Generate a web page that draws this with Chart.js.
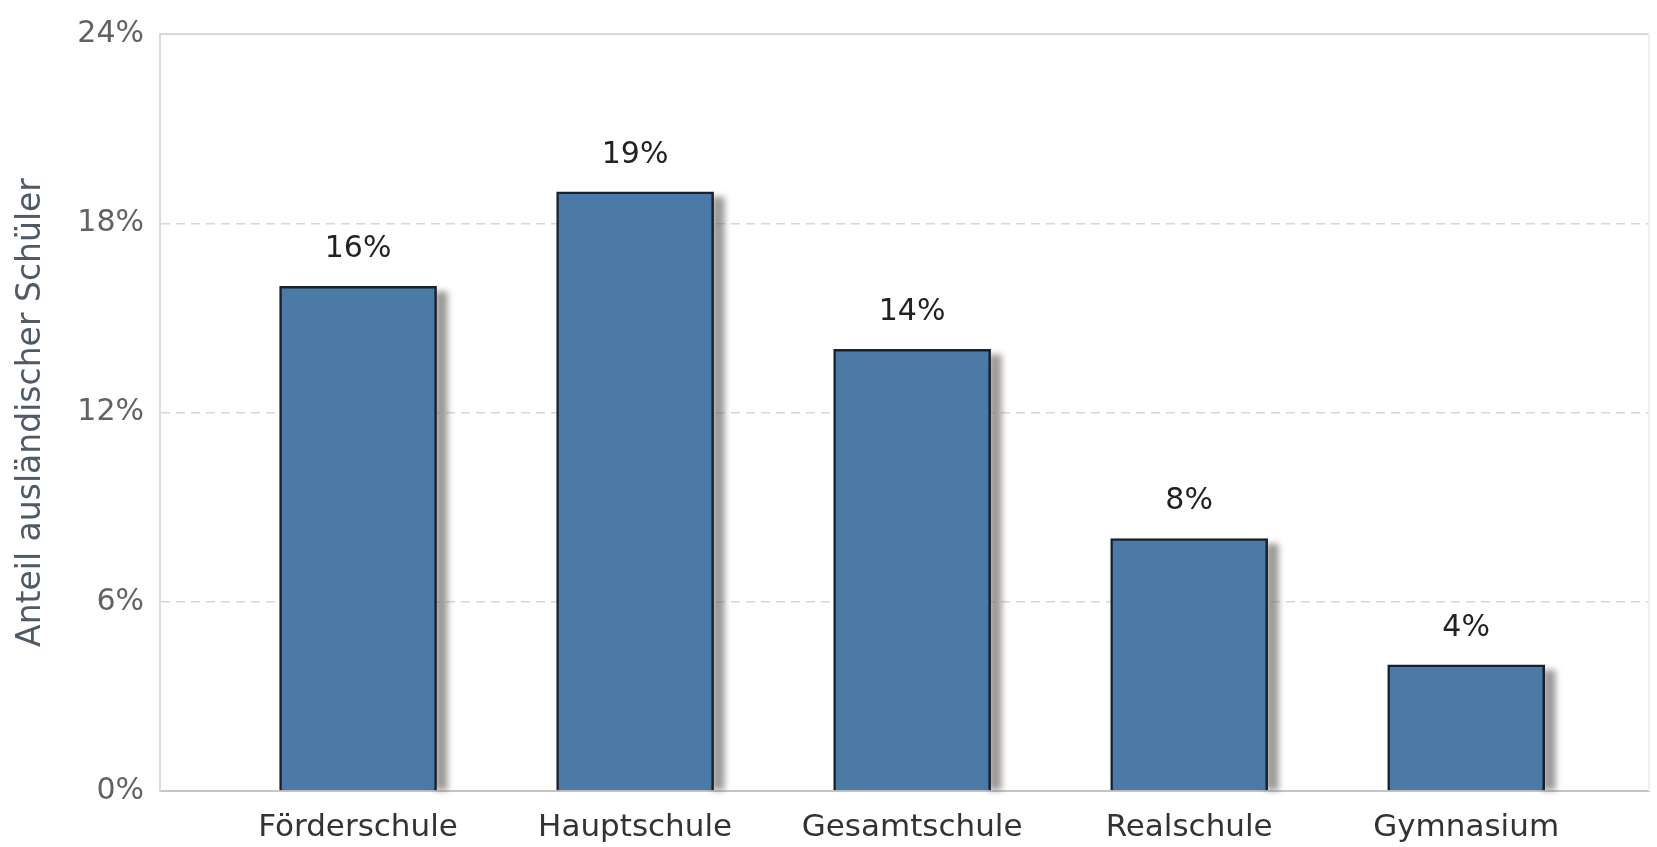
<!DOCTYPE html>
<html>
<head>
<meta charset="utf-8">
<script src="https://cdn.jsdelivr.net/npm/chart.js@4.4.1/dist/chart.umd.min.js"></script>
<style>
    html, body { margin: 0; padding: 0; background: #fff; overflow: hidden; }
    #wrap { width: 1657px; height: 847px; }
</style>
</head>
<body>
<div id="wrap"><canvas id="barChart"></canvas></div>
<script>
// ── Data ─────────────────────────────────────────────────────
const schulformen = ['Förderschule', 'Hauptschule', 'Gesamtschule', 'Realschule', 'Gymnasium'];
const anteil      = [16, 19, 14, 8, 4];
const yTicks      = [0, 6, 12, 18, 24];
const yTitle      = 'Anteil ausländischer Schüler';

const FONT = "'DejaVu Sans', Verdana, sans-serif";

// ── Plot frame (solid top + right edge) ──────────────────────
const plotFrame = {
    id: 'plotFrame',
    beforeDatasetsDraw(chart) {
        const { ctx, chartArea: a } = chart;
        ctx.save();
        ctx.strokeStyle = '#d8d8d8';
        ctx.lineWidth = 2;
        ctx.beginPath();
        ctx.moveTo(a.left, a.top);
        ctx.lineTo(a.right, a.top);
        ctx.stroke();
        ctx.strokeStyle = '#efefef';
        ctx.beginPath();
        ctx.moveTo(a.right, a.top);
        ctx.lineTo(a.right, a.bottom);
        ctx.stroke();
        ctx.restore();
    }
};

// ── Drop shadow at right of each bar ─────────────────────────
const barShadow = {
    id: 'barShadow',
    beforeDatasetsDraw(chart) {
        const ctx = chart.ctx;
        const meta = chart.getDatasetMeta(0);
        ctx.save();
        ctx.filter = 'blur(3px)';
        ctx.fillStyle = 'rgba(105,98,92,0.65)';
        meta.data.forEach(function (bar) {
            const p = bar.getProps(['x', 'y', 'width', 'base'], true);
            ctx.fillRect(p.x + p.width / 2 - 2, p.y + 5, 13, p.base - p.y - 5);
        });
        ctx.restore();
    }
};

// ── Value labels above bars ──────────────────────────────────
const valueLabels = {
    id: 'valueLabels',
    afterDraw(chart) {
        const ctx = chart.ctx;
        const meta = chart.getDatasetMeta(0);
        ctx.save();
        ctx.font = '30px ' + FONT;
        ctx.fillStyle = '#222';
        ctx.textAlign = 'center';
        ctx.textBaseline = 'middle';
        meta.data.forEach(function (bar, i) {
            ctx.fillText(anteil[i] + '%', bar.x, bar.y - 37);
        });
        ctx.restore();
    }
};

const ctx = document.getElementById('barChart').getContext('2d');
new Chart(ctx, {
    type: 'bar',
    data: {
        datasets: [{
            data: anteil.map((v, i) => ({ x: i, y: v })),
            backgroundColor: '#4a7aa5',
            borderColor: '#17212c',
            borderWidth: 2.5,
            borderSkipped: 'bottom',
            barThickness: 157,
        }]
    },
    options: {
        responsive: true,
        maintainAspectRatio: false,
        animation: false,
        layout: { padding: { top: 25, right: 8, left: 0, bottom: 0 } },
        plugins: {
            legend: { display: false },
            tooltip: { enabled: false }
        },
        scales: {
            x: {
                type: 'linear',
                offset: false,
                min: -0.715,
                max: 4.66,
                afterBuildTicks: s => { s.ticks = schulformen.map((_, i) => ({ value: i })); },
                afterFit: s => { s.height = 56; },
                ticks: {
                    callback: v => schulformen[v] || '',
                    color: '#333',
                    font: { family: FONT, size: 31 },
                    padding: 18,
                    maxRotation: 0,
                    autoSkip: false
                },
                grid: { display: false, drawTicks: false },
                border: { display: true, color: '#c4c4c4', width: 2 }
            },
            y: {
                min: 0,
                max: 24,
                afterBuildTicks: s => { s.ticks = yTicks.map(v => ({ value: v })); },
                afterFit: s => { s.width = 160; },
                ticks: {
                    callback: v => v + '%',
                    color: '#626262',
                    font: { family: FONT, size: 30 },
                    padding: 16
                },
                grid: {
                    drawTicks: false,
                    color: c => (c.tick.value === 0 || c.tick.value === 24) ? 'rgba(0,0,0,0)' : '#d6d6d6',
                    lineWidth: 1.5
                },
                border: { display: true, color: '#dcdcdc', width: 2, dash: [9, 6] },
                title: {
                    display: true,
                    text: yTitle,
                    color: '#4f5a66',
                    font: { family: FONT, size: 33 },
                    padding: { top: 12, bottom: 0 }
                }
            }
        }
    },
    plugins: [plotFrame, barShadow, valueLabels]
});
</script>
</body>
</html>
